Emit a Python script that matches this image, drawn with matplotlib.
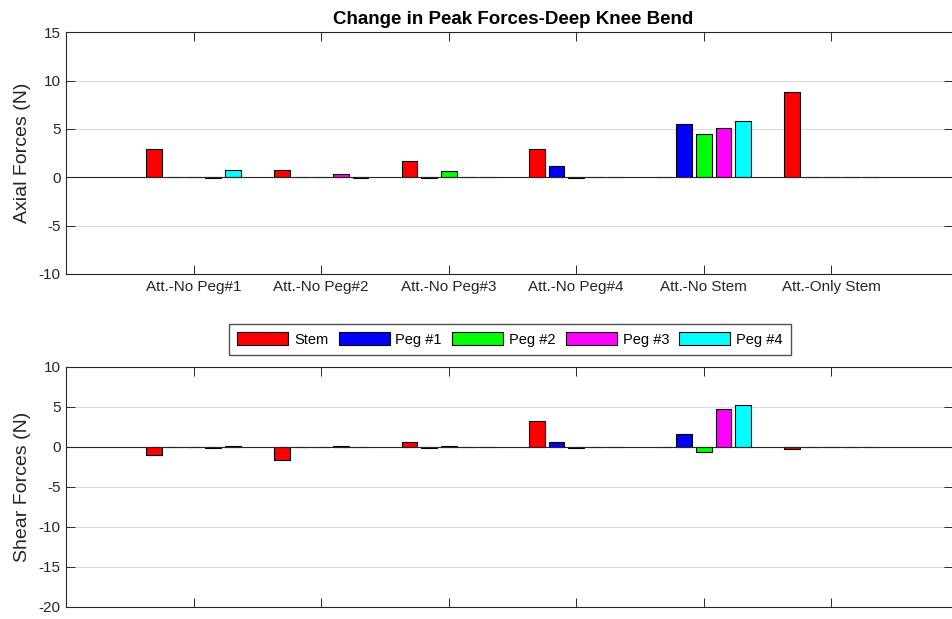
import numpy as np
import matplotlib.pyplot as plt
from matplotlib.patches import Patch

plt.rcParams["font.family"] = ["Liberation Sans", "DejaVu Sans"]
plt.rcParams["axes.unicode_minus"] = False

groups = ['Att.-No Peg#1', 'Att.-No Peg#2', 'Att.-No Peg#3',
          'Att.-No Peg#4', 'Att.-No Stem', 'Att.-Only Stem']
series = ['Stem', 'Peg #1', 'Peg #2', 'Peg #3', 'Peg #4']
colors = ['#ff0000', '#0000ff', '#00ff00', '#ff00ff', '#00ffff']

# rows: groups, columns: Stem, Peg #1..#4
axial = np.array([
    [2.9, 0.0, 0.08, -0.08, 0.79],
    [0.76, 0.0, 0.0, 0.38, -0.08],
    [1.69, -0.08, 0.62, 0.0, 0.0],
    [2.9, 1.17, -0.08, 0.0, 0.0],
    [0.0, 5.52, 4.45, 5.14, 5.83],
    [8.86, 0.0, 0.0, 0.0, 0.0],
])
shear = np.array([
    [-1.0, 0.0, 0.0, -0.1, 0.1],
    [-1.62, 0.0, 0.0, 0.1, 0.0],
    [0.62, -0.1, 0.1, 0.0, 0.0],
    [3.2, 0.62, -0.1, 0.0, 0.0],
    [0.0, 1.62, -0.67, 4.66, 5.24],
    [-0.33, 0.0, 0.0, 0.0, 0.0],
])

axis_col = '#262626'
x = np.arange(1, len(groups) + 1)
n = len(series)
gw = min(0.8, n / (n + 1.5))
step = gw / n
offsets = (np.arange(n) - (n - 1) / 2) * step


def draw(ax, data, ylim, yticks, ylabel):
    for i in range(n):
        ax.bar(x + offsets[i], data[:, i], width=step * 0.8, color=colors[i],
               edgecolor='black', linewidth=0.8, zorder=3)
    ax.axhline(0, color=axis_col, linewidth=0.8, zorder=4)
    ax.set_xlim(0, 6.95)
    ax.set_ylim(*ylim)
    ax.set_yticks(yticks)
    ax.set_xticks(x)
    ax.grid(axis='y', color='#dcdcdc', linewidth=0.8, zorder=0)
    ax.tick_params(direction='in', length=6.5, width=0.7, colors=axis_col,
                   labelsize=11, top=True, right=True, pad=4)
    for s in ax.spines.values():
        s.set_color(axis_col)
        s.set_linewidth(0.8)
    ax.set_ylabel(ylabel, fontsize=14, color=axis_col, labelpad=5)


fig = plt.figure(figsize=(9.53, 6.19), dpi=100)
ax1 = fig.add_axes([66 / 953, 1 - 274 / 619, 886.5 / 953, 241.7 / 619])
ax2 = fig.add_axes([66 / 953, 1 - 607 / 619, 886.5 / 953, 240.3 / 619])

draw(ax1, axial, (-10, 15), [-10, -5, 0, 5, 10, 15], 'Axial Forces (N)')
ax1.set_xticklabels(groups)
ax1.set_title('Change in Peak Forces-Deep Knee Bend', fontsize=13.5,
              fontweight='bold', pad=6, x=513 / 886.5 - 66 / 886.5)

draw(ax2, shear, (-20, 10), [-20, -15, -10, -5, 0, 5, 10], 'Shear Forces (N)')
ax2.set_xticklabels([])

handles = [Patch(facecolor=c, edgecolor='black', linewidth=0.8, label=s)
           for c, s in zip(colors, series)]
fig.legend(handles=handles, loc='center', bbox_to_anchor=(510 / 953, 1 - 339.5 / 619),
           ncol=5, fontsize=10.5, frameon=True, fancybox=False, edgecolor=axis_col,
           handlelength=3.5, handleheight=0.95, handletextpad=0.4, columnspacing=0.7,
           borderpad=0.55, borderaxespad=0)

fig.savefig('out.png', dpi=100)
